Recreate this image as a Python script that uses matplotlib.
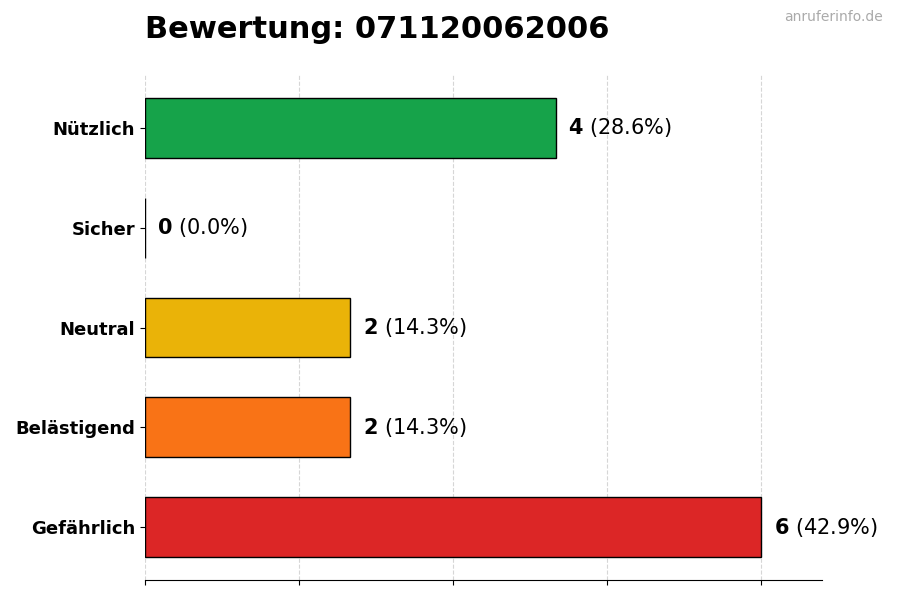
import matplotlib.pyplot as plt

categories = ["Gefährlich", "Belästigend", "Neutral", "Sicher", "Nützlich"]
counts = [6, 2, 2, 0, 4]
colors = ["#dc2626", "#f97316", "#eab308", "#22c55e", "#16a34a"]
total = sum(counts)

fig = plt.figure(figsize=(9, 6), dpi=100)
ax = fig.add_axes([145 / 900, 20 / 600, 677 / 900, 505 / 600])

ax.barh(range(len(categories)), counts, height=0.6, color=colors,
        edgecolor="black", linewidth=1, zorder=3)

for i, c in enumerate(counts):
    ax.text(c + 0.12, i, f"$\\bf{{{c}}}$ ({c / total * 100:.1f}%)",
            va="center", ha="left", fontsize=15)

ax.set_yticks(range(len(categories)))
ax.set_yticklabels(categories, fontsize=13, fontweight="bold")
ax.set_xlim(0, 6.59)
ax.set_ylim(-0.53, 4.53)
ax.set_xticks([0, 1.5, 3, 4.5, 6])
ax.set_xticklabels([])
ax.grid(axis="x", linestyle="--", color="#cccccc", alpha=0.8, zorder=0)
for s in ["top", "right", "left"]:
    ax.spines[s].set_visible(False)

fig.text(145 / 900, 1 - 30 / 600, "Bewertung: 071120062006", fontsize=22,
         fontweight="bold", va="center", ha="left")
fig.text(883 / 900, 1 - 17 / 600, "anruferinfo.de", fontsize=10,
         color="#aaaaaa", ha="right", va="center")

fig.savefig("out.png", dpi=100)
